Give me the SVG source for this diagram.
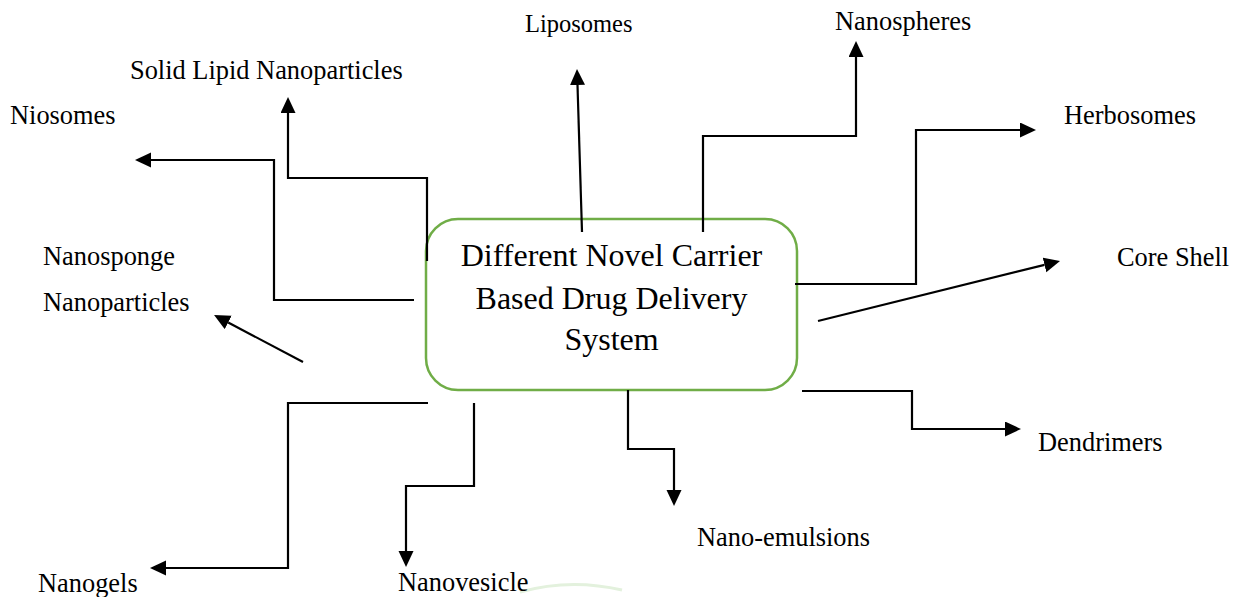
<svg xmlns="http://www.w3.org/2000/svg" width="1233" height="597" viewBox="0 0 1233 597">
  <style>
    .lbl { font-family: "Liberation Serif", "Times New Roman", serif; font-size: 26.4px; fill: #000; }
    .ctr { font-family: "Liberation Serif", "Times New Roman", serif; font-size: 32px; fill: #000; text-anchor: middle; }
    .conn { fill: none; stroke: #000; stroke-width: 2.2; marker-end: url(#ah); }
  </style>
  <defs>
    <marker id="ah" markerUnits="userSpaceOnUse" markerWidth="16" markerHeight="16" refX="0" refY="7.5" orient="auto">
      <path d="M0,0 L16,7.5 L0,15 Z" fill="#000"/>
    </marker>
  </defs>
  <rect width="1233" height="597" fill="#fff"/>
  <path d="M520,592 Q570,578 622,590" fill="none" stroke="#e3f1dd" stroke-width="3"/>

  <g id="center">
    <rect x="426" y="219" width="371" height="171" rx="32" ry="32" fill="#fff" stroke="#70AD47" stroke-width="2.5"/>
    <text class="ctr" x="611.5" y="266">Different Novel Carrier</text>
    <text class="ctr" x="611.5" y="309">Based Drug Delivery</text>
    <text class="ctr" x="611.5" y="350">System</text>
  </g>

  <g id="connectors">
    <path class="conn" d="M427,261 V178 H288 V113"/>
    <path class="conn" d="M414,300 H274 V160 H151"/>
    <path class="conn" d="M303,362 L228.2,322.5"/>
    <path class="conn" d="M582,232 L577.5,85"/>
    <path class="conn" d="M703,232 V136 H856 V57"/>
    <path class="conn" d="M795,284 H916 V130 H1020"/>
    <path class="conn" d="M818,321 L1044.5,264.9"/>
    <path class="conn" d="M802,391 H912 V429 H1005"/>
    <path class="conn" d="M628,390 V449 H674 V490"/>
    <path class="conn" d="M474,403 V486 H406 V551"/>
    <path class="conn" d="M428,403 H288 V568 H166"/>
  </g>

  <g id="liposomes"><text class="lbl" x="525" y="32" style="font-size:24.5px">Liposomes</text></g>
  <g id="nanospheres"><text class="lbl" x="835" y="30">Nanospheres</text></g>
  <g id="solid-lipid"><text class="lbl" x="130" y="79">Solid Lipid Nanoparticles</text></g>
  <g id="niosomes"><text class="lbl" x="10" y="124">Niosomes</text></g>
  <g id="herbosomes"><text class="lbl" x="1064" y="124">Herbosomes</text></g>
  <g id="nanosponge"><text class="lbl" x="43" y="265">Nanosponge</text><text class="lbl" x="43" y="311">Nanoparticles</text></g>
  <g id="core-shell"><text class="lbl" x="1117" y="266">Core Shell</text></g>
  <g id="dendrimers"><text class="lbl" x="1038" y="451">Dendrimers</text></g>
  <g id="nano-emulsions"><text class="lbl" x="697" y="546">Nano-emulsions</text></g>
  <g id="nanogels"><text class="lbl" x="38" y="592">Nanogels</text></g>
  <g id="nanovesicle"><text class="lbl" x="398" y="591">Nanovesicle</text></g>
</svg>
